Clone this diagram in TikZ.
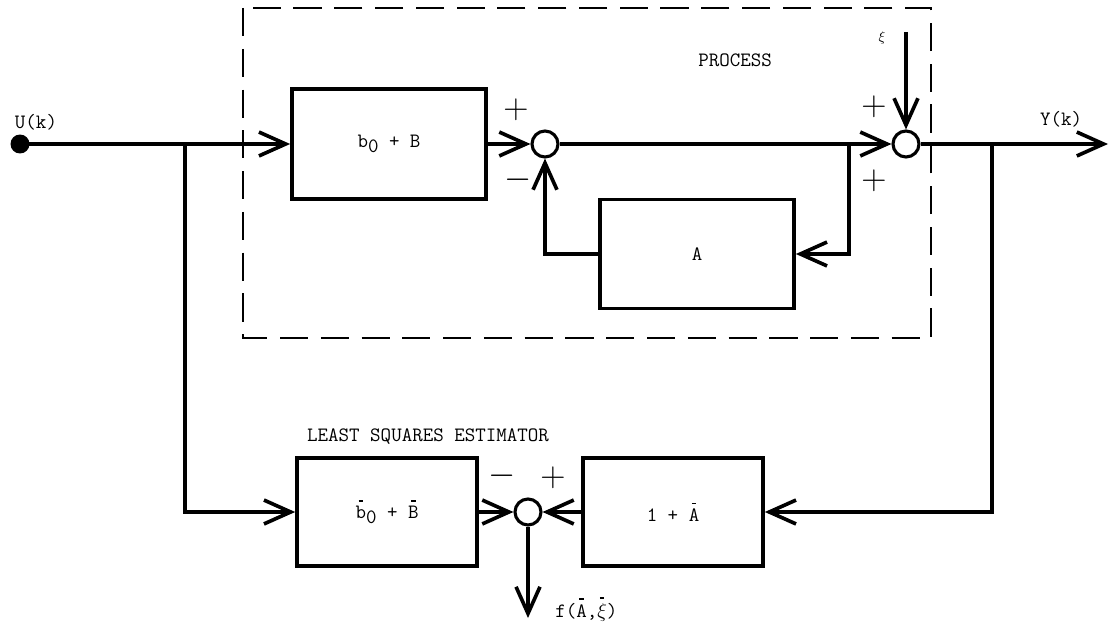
\documentclass[tikz,border=0pt]{standalone}
\usepackage{fontspec}
\usetikzlibrary{arrows.meta}
\newcommand\hatbar[1]{\leavevmode\setbox0\hbox{#1}\rlap{\hbox to\wd0{\hss\raisebox{\dimexpr\ht0+0.22em\relax}{\rule{0.22em}{0.08em}}\hss}}\box0}
\newcommand\lowsub[1]{\raisebox{-0.55ex}{#1}}
\begin{document}
\begin{tikzpicture}[x=0.025cm,y=-0.025cm,
  lbl/.style={font=\fontsize{14.5}{16}\selectfont\ttfamily, inner sep=0pt},
  blk/.style={draw, line width=2.6pt, rectangle, inner sep=0pt, minimum width=138pt, minimum height=78pt, font=\fontsize{14.5}{16}\selectfont\ttfamily},
  sblk/.style={blk, minimum width=128pt, minimum height=77pt},
  sumj/.style={draw, circle, line width=2.2pt, minimum size=18.5pt, inner sep=0pt},
  wire/.style={line width=2.2pt},
  arr/.style={wire, -{Straight Barb[length=19pt,width=17pt,line width=2.6pt]}},
  sgn/.style={font=\fontsize{25}{25}\selectfont, inner sep=0pt},
  procbox/.style={line width=1.4pt, dash pattern=on 20pt off 9pt}]
\useasboundingbox (0,0) rectangle (1111,622);

% dashed process boundary
\draw[procbox] (243,8) rectangle (931,338);

% nodes
\node[circle, fill, minimum size=13.5pt, inner sep=0pt] (u) at (20,144) {};
\node[lbl] (ulbl) at (36,122) {U(k)};
\node[blk] (b1) at (389,144) {b\lowsub{0} + B};
\node[sumj] (s1) at (545,144) {};
\node[sumj] (s2) at (906,144) {};
\node[blk, minimum height=77.5pt] (A) at (697,254) {A};
\node[lbl] (proc) at (735,60) {PROCESS};
\node[lbl, font=\fontsize{10}{11}\selectfont] (xilbl) at (882,38) {$\xi$};
\coordinate (xi) at (906,32);
\node[lbl] (ylbl) at (1061,119) {Y(k)};
\coordinate (yout) at (1108,144);

\node[lbl] (lse) at (428,437) {LEAST SQUARES ESTIMATOR};
\node[sblk] (D) at (387,512) {\hatbar{b}\lowsub{0} + \hatbar{B}};
\node[sumj] (s3) at (528,512) {};
\node[sblk] (C) at (673,512) {1 + \hatbar{A}};
\coordinate (fout) at (528,618);
\node[lbl, anchor=west] (flbl) at (555,609) {f(\hatbar{A},\hatbar{$\xi$})};

% junctions
\coordinate (j1) at (185,144);
\coordinate (j2) at (849,144);
\coordinate (j3) at (992,144);

% signs
\node[sgn] (p1) at (516,110) {$+$};
\node[sgn] (m1) at (518,180) {$-$};
\node[sgn] (p2) at (874,107) {$+$};
\node[sgn] (p3) at (874,181) {$+$};
\node[sgn] (m3) at (502,476) {$-$};
\node[sgn] (p4) at (553,478) {$+$};

% connectors
\draw[arr] (u.center) -- (b1.west);
\draw[arr] (b1.east) -- (s1.west);
\draw[arr] (s1.east) -- (s2.west);
\draw[arr] (xi) -- (s2.north);
\draw[arr] (s2.east) -- (yout);
\draw[arr] (j2) |- (A.east);
\draw[arr] (A.west) -| (s1.south);
\draw[arr] (j1) |- (D.west);
\draw[arr] (j3) |- (C.east);
\draw[arr] (D.east) -- (s3.west);
\draw[arr] (C.west) -- (s3.east);
\draw[arr] (s3.south) -- (fout);
\end{tikzpicture}
\end{document}
